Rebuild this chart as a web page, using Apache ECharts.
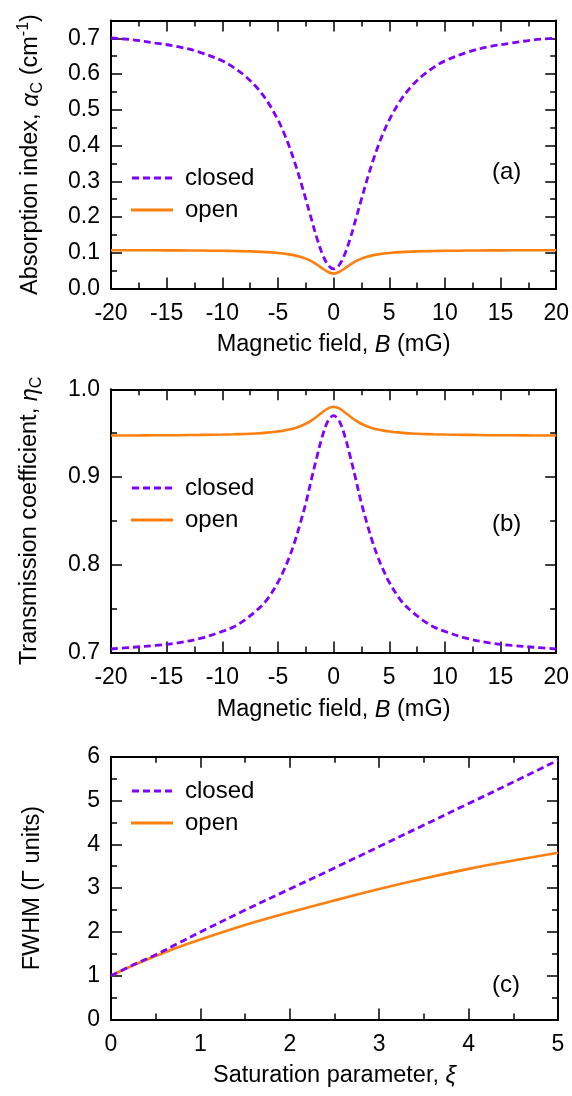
<!DOCTYPE html>
<html>
<head>
<meta charset="utf-8">
<script src="https://cdn.jsdelivr.net/npm/echarts@6/dist/echarts.min.js"></script>
<style>
html, body { margin: 0; padding: 0; background: #fff; }
#page { position: relative; width: 572px; height: 1096px; }
.panel { position: absolute; left: 0; width: 572px; }
#panelA { top: 0; height: 365px; }
#panelB { top: 365px; height: 365px; }
#panelC { top: 730px; height: 366px; }
</style>
</head>
<body>
<div id="page">
  <div class="panel" id="panelA"></div>
  <div class="panel" id="panelB"></div>
  <div class="panel" id="panelC"></div>
</div>
<script>
// Magnetic field sweep (mG)
const fieldB = [-20, -18, -16, -14, -12, -10, -9, -8, -7, -6, -5, -4.5, -4, -3.5, -3, -2.5, -2, -1.5, -1, -0.5,
  0, 0.5, 1, 1.5, 2, 2.5, 3, 3.5, 4, 4.5, 5, 6, 7, 8, 9, 10, 12, 14, 16, 18, 20];

// (a) absorption index alpha_C (cm^-1)
const alphaClosed = [0.701, 0.696, 0.687, 0.677, 0.661, 0.637, 0.619, 0.596, 0.566, 0.526, 0.472, 0.438, 0.399, 0.354, 0.304, 0.250, 0.195, 0.141, 0.096, 0.066,
  0.055, 0.066, 0.096, 0.141, 0.195, 0.250, 0.304, 0.354, 0.399, 0.438, 0.472, 0.526, 0.566, 0.596, 0.619, 0.637, 0.661, 0.677, 0.687, 0.696, 0.701];
const alphaOpen = [0.1074, 0.1073, 0.1071, 0.1068, 0.1064, 0.1057, 0.1052, 0.1045, 0.1035, 0.1020, 0.0997, 0.0980, 0.0958, 0.0930, 0.0891, 0.0838, 0.0767, 0.0673, 0.0563, 0.0463,
  0.0420, 0.0463, 0.0563, 0.0673, 0.0767, 0.0838, 0.0891, 0.0930, 0.0958, 0.0980, 0.0997, 0.1020, 0.1035, 0.1045, 0.1052, 0.1057, 0.1064, 0.1068, 0.1071, 0.1073, 0.1074];

// (b) transmission coefficient eta_C
const etaClosed = [0.704, 0.706, 0.708, 0.711, 0.716, 0.724, 0.729, 0.737, 0.747, 0.760, 0.780, 0.793, 0.808, 0.826, 0.847, 0.870, 0.897, 0.923, 0.947, 0.964,
  0.970, 0.964, 0.947, 0.923, 0.897, 0.870, 0.847, 0.826, 0.808, 0.793, 0.780, 0.760, 0.747, 0.737, 0.729, 0.724, 0.716, 0.711, 0.708, 0.706, 0.704];
const etaOpen = [0.9474, 0.9474, 0.9476, 0.9477, 0.9480, 0.9484, 0.9487, 0.9491, 0.9497, 0.9506, 0.9520, 0.9529, 0.9541, 0.9557, 0.9579, 0.9607, 0.9643, 0.9689, 0.9739, 0.9782,
  0.9800, 0.9782, 0.9739, 0.9689, 0.9643, 0.9607, 0.9579, 0.9557, 0.9541, 0.9529, 0.9520, 0.9506, 0.9497, 0.9491, 0.9487, 0.9484, 0.9480, 0.9477, 0.9476, 0.9474, 0.9474];

// (c) linewidth vs saturation parameter
const satXi = [0, 0.25, 0.5, 0.75, 1, 1.5, 2, 2.5, 3, 3.5, 4, 4.5, 5];
const fwhmClosed = [1.0, 1.25, 1.48, 1.74, 2.0, 2.5, 2.98, 3.46, 3.95, 4.44, 4.93, 5.42, 5.92];
const fwhmOpen = [1.0, 1.24, 1.45, 1.65, 1.83, 2.16, 2.45, 2.72, 2.98, 3.22, 3.44, 3.63, 3.81];

// tick positions for the absorption axis (frame top sits at 0.75)
const alphaMajorTicks = [0, 0.1, 0.2, 0.3, 0.4, 0.5, 0.6, 0.7];
const alphaMinorTicks = [0.05, 0.15, 0.25, 0.35, 0.45, 0.55, 0.65];

const seriesNames = ['closed', 'open'];
const panelTags = ['(a)', '(b)', '(c)'];

const FONT = '"Liberation Sans", Arial, Helvetica, sans-serif';
const PURPLE = '#7f00ff';
const ORANGE = '#ff7f0e';
const BLACK = '#000';

const zip = (xs, ys) => xs.map((x, i) => [x, ys[i]]);
const tickStyle = () => ({ color: BLACK, width: 1.5 });
const nameStyle = () => ({
  color: BLACK, fontSize: 23.5, fontFamily: FONT, lineHeight: 30,
  rich: {
    it: { fontStyle: 'italic', fontSize: 23.5, fontFamily: FONT, color: BLACK },
    sub: { fontSize: 16, fontFamily: FONT, color: BLACK, verticalAlign: 'bottom', lineHeight: 16 },
    sup: { fontSize: 16, fontFamily: FONT, color: BLACK, verticalAlign: 'top', lineHeight: 16 }
  }
});

const fmtInt = v => String(v);
const fmt1 = v => (Math.abs(v * 10 - Math.round(v * 10)) < 1e-6 ? v.toFixed(1) : '');

// one side of the boxed frame: line, inward major ticks, inward minor ticks
function frameAxis(pos, min, max, step, showLabel, fmt, margin) {
  return {
    type: 'value', position: pos, min: min, max: max, interval: step,
    axisLine: { show: true, onZero: false, lineStyle: { color: BLACK, width: 2 } },
    axisTick: { show: true, inside: true, length: 11, lineStyle: tickStyle() },
    minorTick: { show: true, splitNumber: 2, length: 6, lineStyle: tickStyle() },
    splitLine: { show: false }, minorSplitLine: { show: false },
    axisLabel: { show: showLabel, margin: margin || 8, formatter: fmt, color: BLACK, fontSize: 23, fontFamily: FONT }
  };
}

function withName(axis, name, gap) {
  axis.name = name;
  axis.nameLocation = 'middle';
  axis.nameGap = gap;
  axis.nameTextStyle = nameStyle();
  return axis;
}

function lineSeries(name, data) {
  const closed = name === seriesNames[0];
  return {
    name: name, type: 'line', data: data,
    symbol: 'none', showSymbol: false, smooth: 0.35, animation: false,
    z: closed ? 3 : 2,
    lineStyle: closed
      ? { color: PURPLE, width: 2.8, type: [7, 4], cap: 'butt' }
      : { color: ORANGE, width: 2.6, type: 'solid' },
    itemStyle: { color: closed ? PURPLE : ORANGE, borderWidth: 0 }
  };
}

// legend keys: dashed bar for "closed", solid bar for "open"
const DASH_ICON = 'path://M0,0h7v3h-7z M11,0h7v3h-7z M22,0h7v3h-7z M33,0h7v3h-7z';
function legendAt(top) {
  return {
    top: top, left: 131, orient: 'vertical', selectedMode: false, padding: 0,
    itemWidth: 42, itemHeight: 3, itemGap: 8,
    itemStyle: { borderWidth: 0 },
    data: [{ name: seriesNames[0], icon: DASH_ICON }, { name: seriesNames[1], icon: 'rect' }],
    textStyle: { color: BLACK, fontSize: 24, fontFamily: FONT, padding: [0, 0, 0, 7] }
  };
}

function tag(text, top) {
  return [{ type: 'text', left: 492, top: top, style: { text: text, fill: BLACK, font: '24px ' + FONT } }];
}

// (a) absorption index
const yA = withName(frameAxis('left', 0, 0.75, 0.1, true, fmt1, 11), 'Absorption index, {it|α}{sub|C} (cm{sup|-1})', 65);
yA.axisTick.customValues = alphaMajorTicks;
yA.axisLabel.customValues = alphaMajorTicks;
yA.minorTick = { show: false };
const yAR = frameAxis('right', 0, 0.75, 0.1, false);
yAR.axisTick.customValues = alphaMajorTicks;
yAR.minorTick = { show: false };
const yAminor = ['left', 'right'].map(p => {
  const m = frameAxis(p, 0, 0.75, 0.1, false);
  m.axisLine = { show: false, onZero: false };
  m.axisTick = { show: true, inside: true, length: 6, lineStyle: tickStyle(), customValues: alphaMinorTicks };
  m.minorTick = { show: false };
  return m;
});
const optionA = {
  animation: false,
  grid: { left: 111, right: 15, top: 20.5, height: 270 },
  xAxis: [withName(frameAxis('bottom', -20, 20, 5, true, fmtInt, 13.5), 'Magnetic field, {it|B} (mG)', 40.5),
          frameAxis('top', -20, 20, 5, false)],
  yAxis: [yA, yAR].concat(yAminor),
  legend: legendAt(166),
  graphic: tag(panelTags[0], 160),
  series: [lineSeries('closed', zip(fieldB, alphaClosed)), lineSeries('open', zip(fieldB, alphaOpen))]
};

// (b) transmission coefficient
const optionB = {
  animation: false,
  grid: { left: 111, right: 15, top: 24.3, height: 268 },
  xAxis: [withName(frameAxis('bottom', -20, 20, 5, true, fmtInt, 13.5), 'Magnetic field, {it|B} (mG)', 42.5),
          frameAxis('top', -20, 20, 5, false)],
  yAxis: [withName(frameAxis('left', 0.7, 1.0, 0.1, true, fmt1, 11), 'Transmission coefficient, {it|η}{sub|C}', 66),
          frameAxis('right', 0.7, 1.0, 0.1, false)],
  legend: legendAt(111),
  graphic: tag(panelTags[1], 147),
  series: [lineSeries('closed', zip(fieldB, etaClosed)), lineSeries('open', zip(fieldB, etaOpen))]
};

// (c) FWHM vs saturation parameter
const optionC = {
  animation: false,
  grid: { left: 111, right: 14, top: 26.7, height: 269 },
  xAxis: [withName(frameAxis('bottom', 0, 5, 1, true, fmtInt, 13.5), 'Saturation parameter, {it|ξ}', 41),
          frameAxis('top', 0, 5, 1, false)],
  yAxis: [withName(frameAxis('left', 0, 6, 1, true, fmtInt, 11), 'FWHM (Γ units)', 63),
          frameAxis('right', 0, 6, 1, false)],
  legend: legendAt(49),
  graphic: tag(panelTags[2], 243),
  series: [lineSeries('closed', zip(satXi, fwhmClosed)), lineSeries('open', zip(satXi, fwhmOpen))]
};

[['panelA', optionA], ['panelB', optionB], ['panelC', optionC]].forEach(([id, opt]) => {
  echarts.init(document.getElementById(id), null, { renderer: 'canvas' }).setOption(opt);
});
</script>
</body>
</html>
